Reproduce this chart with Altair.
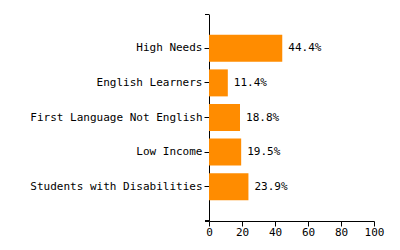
import altair as alt
import pandas as pd

categories = ["High Needs", "English Learners", "First Language Not English",
              "Low Income", "Students with Disabilities"]
values = [44.4, 11.4, 18.8, 19.5, 23.9]
labels = ["44.4%", "11.4%", "18.8%", "19.5%", "23.9%"]
x_ticks = [0, 20, 40, 60, 80, 100]

df = pd.DataFrame({"category": categories, "value": values, "label": labels})
FONT = "DejaVu Sans Mono"

y_enc = alt.Y("category:N", sort=categories, title=None,
              scale=alt.Scale(paddingInner=0.22, paddingOuter=0.6),
              axis=alt.Axis(labelFont=FONT, labelFontSize=11, labelColor="black",
                            domainColor="black", tickColor="black", tickSize=5,
                            labelPadding=2, labelLimit=300))
x_enc = alt.X("value:Q", title=None,
              scale=alt.Scale(domain=[0, 100], nice=False),
              axis=alt.Axis(values=x_ticks, grid=False, labelFont=FONT, labelFontSize=11,
                            labelColor="black", domainColor="black", tickColor="black",
                            tickSize=5, labelPadding=0, labelFlush=False,
                            labelOverlap=False))

bars = alt.Chart(df).mark_bar(color="#FF8C00").encode(x=x_enc, y=y_enc)
text = alt.Chart(df).mark_text(align="left", baseline="middle", dx=6, font=FONT,
                               fontSize=11, color="black").encode(
    x=x_enc, y=y_enc, text="label:N")

top_tick = alt.Chart(df).mark_rule(color="black").encode(
    x=alt.value(-4), x2=alt.value(0), y=alt.value(0.5))
bottom_ext = alt.Chart(df).mark_rule(color="black").encode(
    x=alt.value(-4), x2=alt.value(0), y=alt.value(207))

chart = alt.layer(bars, text, top_tick, bottom_ext).properties(
    width=165, height=207,
    background="white",
    autosize=alt.AutoSizeParams(type="none"),
    padding={"left": 209, "top": 14, "right": 26, "bottom": 29},
).configure_view(strokeWidth=0)

chart.save("out.html", embed_options={"renderer": "svg", "actions": False})
